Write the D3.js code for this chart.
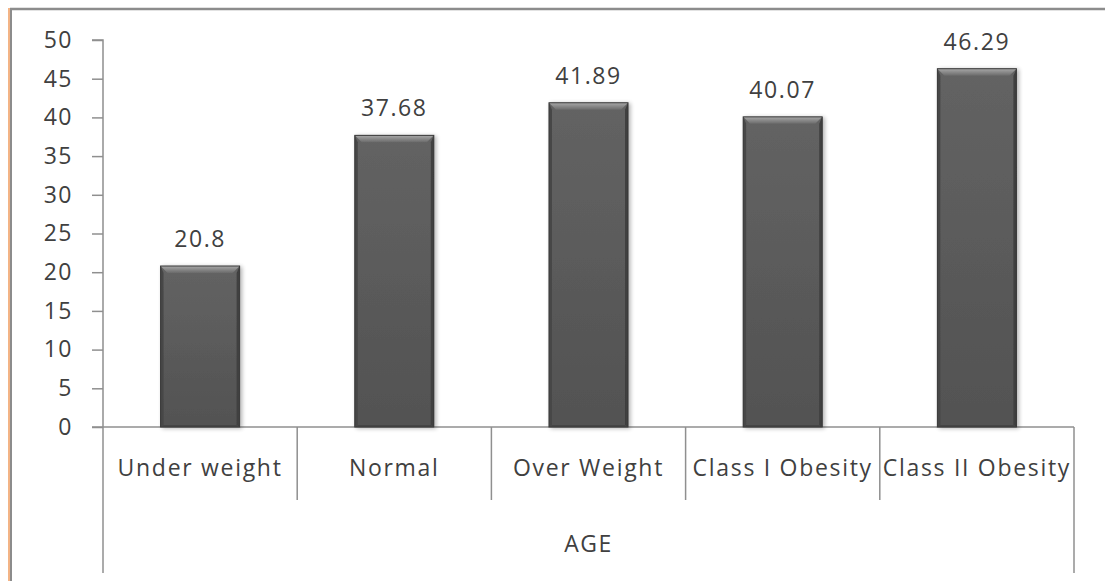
<!DOCTYPE html>
<html>
<head>
<meta charset="utf-8">
<script src="https://cdn.jsdelivr.net/npm/d3@7/dist/d3.min.js"></script>
<style>
  html, body { margin: 0; padding: 0; background: #fff; }
  svg { display: block; }
  text { font-family: "Open Sans", "Noto Sans", sans-serif; fill: #404040; }
</style>
</head>
<body>
<svg id="chart" width="1105" height="581"></svg>
<script>
// BMI categories and the mean value shown for each
const categories = ["Under weight", "Normal", "Over Weight", "Class I Obesity", "Class II Obesity"];
const values = [20.8, 37.68, 41.89, 40.07, 46.29];
const valueLabels = ["20.8", "37.68", "41.89", "40.07", "46.29"];
const yTicks = [0, 5, 10, 15, 20, 25, 30, 35, 40, 45, 50];
const axisTitle = "AGE";

const W = 1105, H = 581;
const plot = { left: 103, right: 1074, top: 40, bottom: 427 };

const svg = d3.select("#chart");

// gradients and shadow for the bevelled bars
const defs = svg.append("defs");
const bodyGrad = defs.append("linearGradient").attr("id", "bodyGrad")
  .attr("x1", 0).attr("y1", 0).attr("x2", 0).attr("y2", 1);
bodyGrad.append("stop").attr("offset", "0%").attr("stop-color", "#636363");
bodyGrad.append("stop").attr("offset", "100%").attr("stop-color", "#525252");
const topGrad = defs.append("linearGradient").attr("id", "topGrad")
  .attr("x1", 0).attr("y1", 0).attr("x2", 0).attr("y2", 1);
topGrad.append("stop").attr("offset", "0%").attr("stop-color", "#a8a8a8");
topGrad.append("stop").attr("offset", "100%").attr("stop-color", "#6a6a6a");
const shadow = defs.append("filter").attr("id", "barShadow")
  .attr("x", "-20%").attr("y", "-10%").attr("width", "140%").attr("height", "120%");
shadow.append("feGaussianBlur").attr("in", "SourceAlpha").attr("stdDeviation", 2).attr("result", "b");
shadow.append("feOffset").attr("in", "b").attr("dx", 2).attr("dy", 1).attr("result", "o");
shadow.append("feComponentTransfer").attr("in", "o").attr("result", "s")
  .append("feFuncA").attr("type", "linear").attr("slope", 0.3);
const merge = shadow.append("feMerge");
merge.append("feMergeNode").attr("in", "s");
merge.append("feMergeNode").attr("in", "SourceGraphic");

// outer frame
svg.append("line").attr("x1", 9).attr("x2", 9).attr("y1", 8).attr("y2", H)
  .attr("stroke", "#f3b486").attr("stroke-width", 2);
svg.append("line").attr("x1", 11).attr("x2", 11).attr("y1", 8).attr("y2", H)
  .attr("stroke", "#8c8c8c").attr("stroke-width", 2);
svg.append("line").attr("x1", 10).attr("x2", W).attr("y1", 9).attr("y2", 9)
  .attr("stroke", "#8c8c8c").attr("stroke-width", 2.5);

const x = d3.scaleBand().domain(categories).range([plot.left, plot.right]).padding(0);
const y = d3.scaleLinear().domain([0, 50]).range([plot.bottom, plot.top]);

const axisColor = "#8f8f8f";

// y axis
const yAxis = svg.append("g").attr("transform", `translate(${plot.left},0)`)
  .call(d3.axisLeft(y).tickValues(yTicks).tickSize(11).tickPadding(19));
yAxis.select(".domain").attr("stroke", axisColor).attr("stroke-width", 1.5)
  .attr("d", `M-11,${y(50)}H0V${y(0)}`);
yAxis.selectAll(".tick line").attr("stroke", axisColor).attr("stroke-width", 1.5);
yAxis.selectAll(".tick text")
  .style("font-family", "'Open Sans', sans-serif")
  .style("font-size", "23px").style("letter-spacing", "1.5px")
  .attr("fill", "#404040");

// category axis: baseline plus the divider lines between categories
const grid = svg.append("g").attr("stroke", axisColor).attr("stroke-width", 1.5);
grid.append("line").attr("x1", plot.left - 11).attr("x2", plot.right)
  .attr("y1", y(0)).attr("y2", y(0));
const edges = categories.map(c => x(c)).concat([x(categories[categories.length - 1]) + x.bandwidth()]);
edges.forEach((e, i) => {
  const outer = i === 0 || i === edges.length - 1;
  grid.append("line").attr("x1", e).attr("x2", e)
    .attr("y1", y(0)).attr("y2", outer ? 573 : 500);
});

// bars
const barW = x.bandwidth() * 0.407;
const bev = 7;
const bars = svg.append("g").selectAll("g").data(categories).join("g")
  .attr("filter", "url(#barShadow)");
bars.each(function (c, i) {
  const g = d3.select(this);
  const x0 = x(c) + (x.bandwidth() - barW) / 2, x1 = x0 + barW;
  const y0 = y(values[i]), y1 = y(0);
  g.append("rect").attr("x", x0).attr("y", y0).attr("width", barW).attr("height", y1 - y0)
    .attr("fill", "url(#bodyGrad)");
  // side bevels
  g.append("path").attr("d", `M${x0},${y0}L${x0 + 3},${y0 + bev}L${x0 + 3},${y1 - 2}L${x0},${y1}Z`)
    .attr("fill", "#474747");
  g.append("path").attr("d", `M${x1},${y0}L${x1 - 3},${y0 + bev}L${x1 - 3},${y1 - 2}L${x1},${y1}Z`)
    .attr("fill", "#3f3f3f");
  g.append("path").attr("d", `M${x0},${y1}L${x0 + 3},${y1 - 2}L${x1 - 3},${y1 - 2}L${x1},${y1}Z`)
    .attr("fill", "#444");
  // top bevel
  g.append("path").attr("d", `M${x0},${y0}L${x1},${y0}L${x1 - bev},${y0 + bev}L${x0 + bev},${y0 + bev}Z`)
    .attr("fill", "url(#topGrad)");
  g.append("rect").attr("x", x0).attr("y", y0).attr("width", barW).attr("height", y1 - y0)
    .attr("fill", "none").attr("stroke", "#3a3a3a").attr("stroke-width", 1);
});

// value labels
svg.append("g").selectAll("text").data(categories).join("text")
  .attr("x", c => x(c) + x.bandwidth() / 2)
  .attr("y", (c, i) => y(values[i]) - 19)
  .attr("text-anchor", "middle")
  .style("font-size", "23px").style("letter-spacing", "1.6px")
  .text((c, i) => valueLabels[i]);

// category labels
svg.append("g").selectAll("text").data(categories).join("text")
  .attr("x", c => x(c) + x.bandwidth() / 2)
  .attr("y", 476)
  .attr("text-anchor", "middle")
  .style("font-size", "23px").style("letter-spacing", "1.7px")
  .text(c => c);

// axis title
svg.append("text")
  .attr("x", (plot.left + plot.right) / 2).attr("y", 552)
  .attr("text-anchor", "middle")
  .style("font-size", "23px").style("letter-spacing", "1.5px")
  .text(axisTitle);
</script>
</body>
</html>
